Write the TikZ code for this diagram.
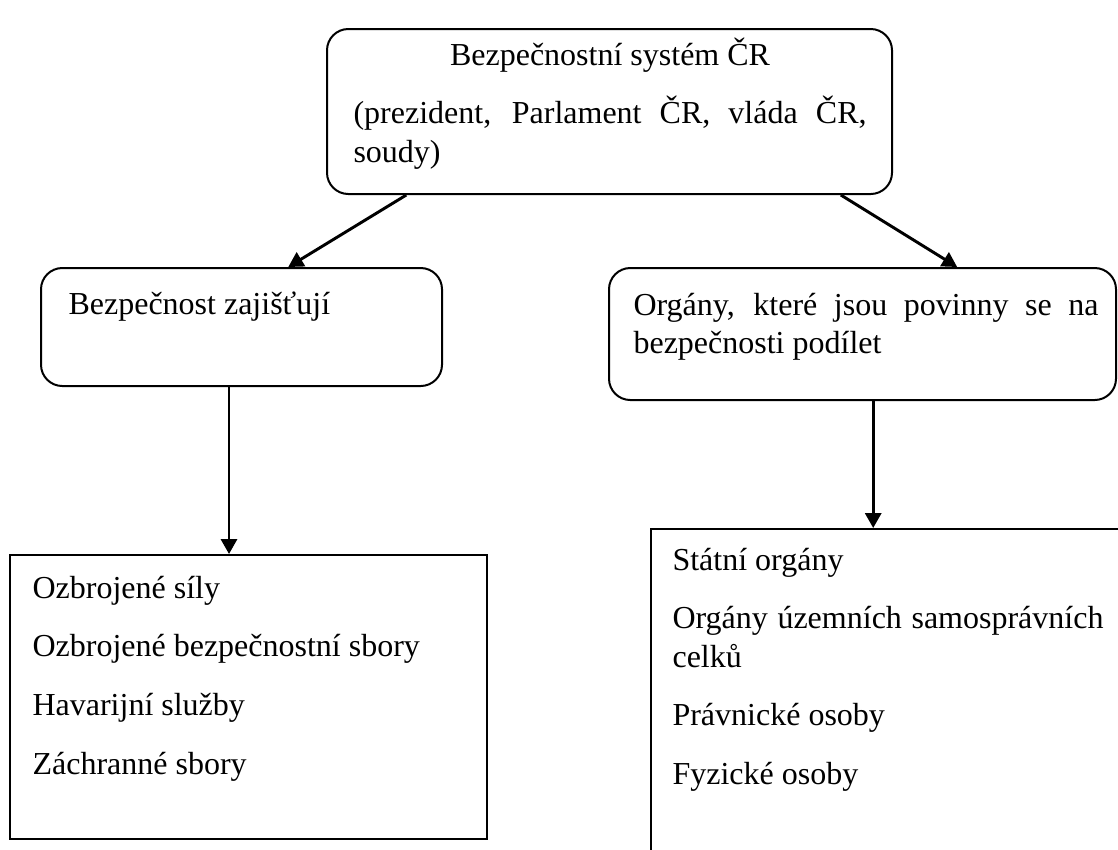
\documentclass[tikz,border=0pt]{standalone}
\usepackage{fontspec}
\setmainfont{Liberation Serif}
\usetikzlibrary{arrows.meta, fit, calc}
\newdimen\px
\px=0.375pt
\newcommand{\boxlines}[2]{\parbox[t]{#1\px}{\setlength{\parskip}{7.6pt}\hyphenpenalty=10000 \tolerance=9999 #2}}

\begin{document}
\begin{tikzpicture}[x=0.375pt, y=-0.375pt,
nodes = {font=\fontsize{12pt}{14.4pt}\selectfont},
roundbox/.style = {draw, line width=0.75pt, rounded corners=8pt, inner sep=0pt},
sharpbox/.style = {draw, line width=0.75pt, inner sep=0pt},
txt/.style = {inner sep=0pt, anchor=base west},
link/.style = {line width=1.1pt},
arrows = {-{Triangle[length=5.6pt, width=6pt]}}]

\path[use as bounding box, clip] (0,0) rectangle (1118,849);

% boxes
\node[roundbox, fit={(327,29) (892,194)}] (system) {};
\node[roundbox, fit={(41,268) (442,386)}] (secure) {};
\node[roundbox, fit={(609,268) (1116,400)}] (organs) {};
\node[sharpbox, fit={(10,555) (487,839)}] (forces) {};
\node[sharpbox, fit={(651,529) (1140,880)}] (bodies) {};

% texts
\node[txt] (systemtext) at (353,65) {\boxlines{513}{
{\centering Bezpečnostní systém ČR\par}
(prezident, Parlament ČR, vláda ČR, soudy)}};
\node[txt] (securetext) at (68,314) {\boxlines{360}{
Bezpečnost zajišťují}};
\node[txt] (organstext) at (633,315) {\boxlines{465}{
Orgány, které jsou povinny se na bezpečnosti podílet}};
\node[txt] (forcestext) at (32,598) {\boxlines{440}{
Ozbrojené síly\par
Ozbrojené bezpečnostní sbory\par
Havarijní služby\par
Záchranné sbory}};
\node[txt] (bodiestext) at (672,570) {\boxlines{431}{
Státní orgány\par
Orgány územních samosprávních celků\par
Právnické osoby\par
Fyzické osoby}};

% connections
\draw[link] ($(system.south west)!0.1416!(system.south east)$) -- ($(secure.north west)!0.616!(secure.north east)$);
\draw[link] ($(system.south west)!0.908!(system.south east)$) -- ($(organs.north west)!0.686!(organs.north east)$);
\path ($(secure.south west)!0.469!(secure.south east)$) coordinate (securedrop);
\draw[link] (securedrop) -- (securedrop |- forces.north);
\path ($(organs.south west)!0.521!(organs.south east)$) coordinate (organsdrop);
\draw[link] (organsdrop) -- (organsdrop |- bodies.north);

\end{tikzpicture}
\end{document}
